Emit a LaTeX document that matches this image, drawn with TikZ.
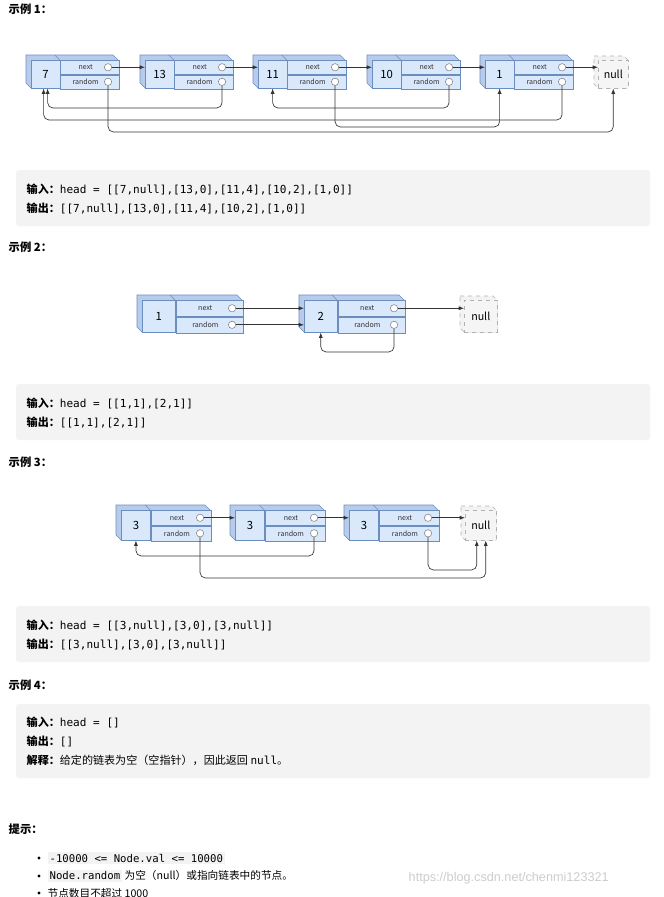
\documentclass[tikz,border=0pt]{standalone}
\usepackage{fontspec}
\setmainfont{Noto Sans CJK SC}
\setmonofont{DejaVu Sans Mono}
\usetikzlibrary{positioning,calc,arrows.meta}

\definecolor{cellfill}{HTML}{DAE8FC}
\definecolor{cellside}{HTML}{B7CCEC}
\definecolor{celldraw}{HTML}{6C8EBF}
\definecolor{nullfill}{HTML}{F5F5F5}
\definecolor{codebg}{HTML}{F3F3F3}

% list node: name, left x, top y, width, height, value
\newcommand{\lnode}[6]{%
  \fill[cellside,draw=celldraw] (#2-5,#3-5) -- (#2+#4-5,#3-5) -- (#2+#4,#3) -- (#2+#4,#3+#5) -- (#2,#3+#5) -- (#2-5,#3+#5-5) -- cycle;
  \draw[celldraw] (#2+0.33*#4-5,#3-5) -- (#2+0.33*#4,#3);
  \node[val,minimum width={0.33*#4*0.75pt},minimum height={#5*0.75pt},anchor=north west] (#1) at (#2,#3) {#6};
  \node[fld,minimum width={0.67*#4*0.75pt},minimum height={#5*0.375pt},anchor=north west] (#1-nf) at (#1.north east) {};
  \node[fld,minimum width={0.67*#4*0.75pt},minimum height={#5*0.375pt},anchor=north west] (#1-rf) at (#1-nf.south west) {};
  \node[lbl] at ($(#1-nf.center)+(-4,0)$) {next};
  \node[lbl] at ($(#1-rf.center)+(-4,0)$) {random};
  \node[hole] (#1-n) at ($(#1-nf.east)+(-11,0)$) {};
  \node[hole] (#1-r) at ($(#1-rf.east)+(-11,0)$) {};
}
% null node: name, left x, top y, width, height
\newcommand{\nnode}[5]{%
  \fill[nullfill!80!black!20,draw=gray!60,dashed] (#2-4,#3-4) -- (#2+#4-4,#3-4) -- (#2+#4,#3) -- (#2+#4,#3+#5) -- (#2,#3+#5) -- (#2-4,#3+#5-4) -- cycle;
  \node[nul,minimum width={#4*0.75pt},minimum height={#5*0.75pt},anchor=north west] (#1) at (#2,#3) {null};
}

\begin{document}
\begin{tikzpicture}[x=0.75pt,y=-0.75pt,
  val/.style={draw=celldraw,fill=cellfill,inner sep=0pt,font=\fontsize{8.5}{10}\selectfont},
  fld/.style={draw=celldraw,fill=cellfill,inner sep=0pt},
  lbl/.style={inner sep=0pt,font=\fontsize{5.3}{6}\selectfont,text=black!80},
  hole/.style={circle,draw=gray,fill=white,inner sep=0pt,minimum size=5.5pt},
  nul/.style={draw=gray!60,dashed,fill=nullfill,inner sep=0pt,font=\fontsize{8}{10}\selectfont},
  nxt/.style={-{Latex[length=4pt,width=3pt]},black!80,line width=0.5pt},
  rnd/.style={nxt,rounded corners=4pt},
  head/.style={anchor=west,font=\fontsize{8.5}{10}\selectfont\bfseries},
  code/.style={anchor=west,font=\fontsize{8.3}{10}\selectfont\ttfamily},
  box/.style={fill=codebg,rounded corners=2pt},
  tip/.style={anchor=west,font=\fontsize{8}{10}\selectfont}]
\useasboundingbox (0,0) rectangle (664,897);
\clip (0,0) rectangle (664,897);

% example 1
\node[head] (h1) at (4,9) {示例 1：};
\lnode{a1}{31}{60}{87}{28}{7}
\lnode{a2}{145}{60}{87}{28}{13}
\lnode{a3}{258}{60}{87}{28}{11}
\lnode{a4}{372}{60}{87}{28}{10}
\lnode{a5}{485}{60}{87}{28}{1}
\nnode{null1}{598}{60}{30}{28}
\draw[nxt] (a1-n) -- (a1-n -| a2.west);
\draw[nxt] (a2-n) -- (a2-n -| a3.west);
\draw[nxt] (a3-n) -- (a3-n -| a4.west);
\draw[nxt] (a4-n) -- (a4-n -| a5.west);
\draw[nxt] (a5-n) -- (a5-n -| null1.west);
\draw[rnd] (a1-r) -- ($(a1-r |- 0,132)$) -| (null1.south);
\draw[rnd] (a2-r) -- ($(a2-r |- 0,108)$) -| ($(a1.south)+(2,0)$);
\draw[rnd] (a5-r) -- ($(a5-r |- 0,120)$) -| ($(a1.south)+(-2,0)$);
\draw[rnd] (a3-r) -- ($(a3-r |- 0,127)$) -| (a5.south);
\draw[rnd] (a4-r) -- ($(a4-r |- 0,108)$) -| (a3.south);
\fill[box] (16,170) rectangle (650,226);
\node[code] (in1) at (22,189) {{\rmfamily\bfseries 输入：}head = [[7,null],[13,0],[11,4],[10,2],[1,0]]};
\node[code] (out1) at (22,208) {{\rmfamily\bfseries 输出：}[[7,null],[13,0],[11,4],[10,2],[1,0]]};

% example 2
\node[head] (h2) at (4,247) {示例 2：};
\lnode{b1}{142}{300}{100}{32}{1}
\lnode{b2}{304}{300}{100}{32}{2}
\nnode{null2}{464}{300}{33}{32}
\draw[nxt] (b1-n) -- (b1-n -| b2.west);
\draw[nxt] (b1-r) -- (b1-r -| b2.west);
\draw[nxt] (b2-n) -- (b2-n -| null2.west);
\draw[rnd] (b2-r) -- ($(b2-r |- 0,352)$) -| (b2.south);
\fill[box] (16,384) rectangle (650,440);
\node[code] (in2) at (22,403) {{\rmfamily\bfseries 输入：}head = [[1,1],[2,1]]};
\node[code] (out2) at (22,422) {{\rmfamily\bfseries 输出：}[[1,1],[2,1]]};

% example 3
\node[head] (h3) at (4,462) {示例 3：};
\lnode{c1}{121}{510}{89}{30}{3}
\lnode{c2}{235}{510}{89}{30}{3}
\lnode{c3}{349}{510}{89}{30}{3}
\nnode{null3}{465}{510}{31}{30}
\draw[nxt] (c1-n) -- (c1-n -| c2.west);
\draw[nxt] (c2-n) -- (c2-n -| c3.west);
\draw[nxt] (c3-n) -- (c3-n -| null3.west);
\draw[rnd] (c1-r) -- ($(c1-r |- 0,578)$) -| ($(null3.south)+(5,0)$);
\draw[rnd] (c3-r) -- ($(c3-r |- 0,570)$) -| ($(null3.south)+(-4,0)$);
\draw[rnd] (c2-r) -- ($(c2-r |- 0,556)$) -| (c1.south);
\fill[box] (16,606) rectangle (650,662);
\node[code] (in3) at (22,625) {{\rmfamily\bfseries 输入：}head = [[3,null],[3,0],[3,null]]};
\node[code] (out3) at (22,644) {{\rmfamily\bfseries 输出：}[[3,null],[3,0],[3,null]]};

% example 4
\node[head] (h4) at (4,685) {示例 4：};
\fill[box] (16,704) rectangle (650,778);
\node[code] (in4) at (22,722) {{\rmfamily\bfseries 输入：}head = []};
\node[code] (out4) at (22,741) {{\rmfamily\bfseries 输出：}[]};
\node[code] (ex4) at (22,760) {{\rmfamily\bfseries 解释：}{\rmfamily 给定的链表为空（空指针），因此返回 }null{\rmfamily 。}};

% hints
\node[head] (h5) at (4,829) {提示：};
\foreach \yy/\txt/\nm in {858/{\colorbox{codebg}{\ttfamily -10000 <= Node.val <= 10000}}/t1,
  876/{\colorbox{codebg}{\ttfamily Node.random} 为空（null）或指向链表中的节点。}/t2,
  893/{节点数目不超过 1000}/t3}{
  \fill (39,\yy) circle (1.6);
  \node[tip,inner sep=1pt] (\nm) at (46,\yy) {\setlength{\fboxsep}{1.5pt}\txt};
}
\node[anchor=west,text=gray!40,font=\fontsize{9.5}{10}\selectfont] (wm) at (404,878) {\setmainfont{Liberation Sans}https://blog.csdn.net/chenmi123321};
\end{tikzpicture}
\end{document}
